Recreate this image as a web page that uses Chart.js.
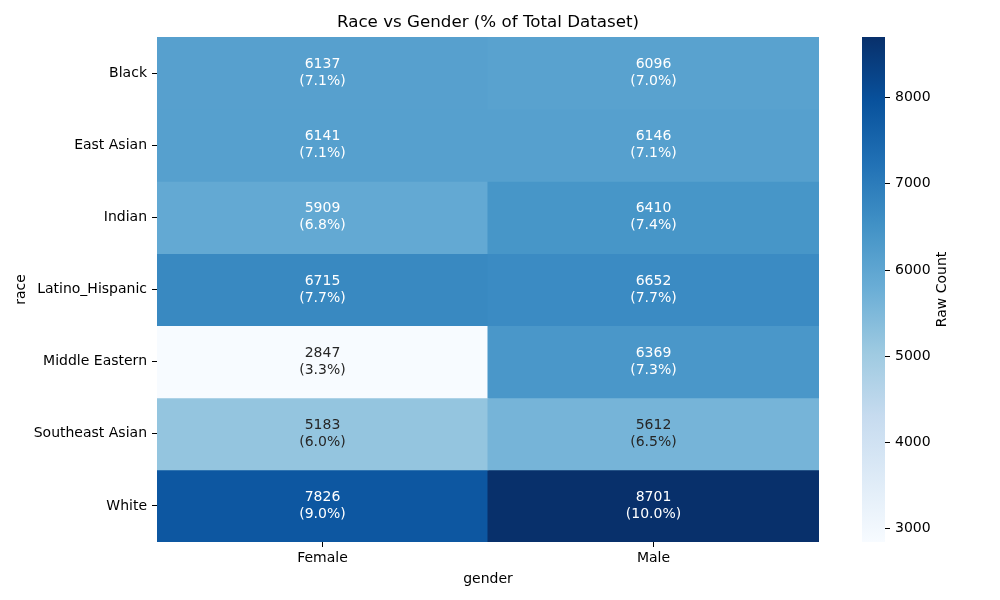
<!DOCTYPE html>
<html>
<head>
<meta charset="utf-8">
<script src="https://cdn.jsdelivr.net/npm/chart.js@4.4.1/dist/chart.umd.min.js"></script>
<style>
  body { margin: 0; background: #fff; }
  #wrap { position: relative; width: 1000px; height: 600px; }
  #heat { position: absolute; left: 0; top: 0; }
  #cbar { position: absolute; left: 840px; top: 0; }
</style>
</head>
<body>
<div id="wrap">
  <canvas id="heat" width="1000" height="600"></canvas>
  <canvas id="cbar" width="160" height="600"></canvas>
</div>
<script>
const races = ['Black', 'East Asian', 'Indian', 'Latino_Hispanic', 'Middle Eastern', 'Southeast Asian', 'White'];
const genders = ['Female', 'Male'];
const femaleCounts = [6137, 6141, 5909, 6715, 2847, 5183, 7826];
const maleCounts = [6096, 6146, 6410, 6652, 6369, 5612, 8701];
const colorbarTicks = [3000, 4000, 5000, 6000, 7000, 8000];

const FONT = 'DejaVu Sans';
Chart.defaults.font.family = FONT;
Chart.defaults.font.size = 14;
Chart.defaults.color = '#000';

// matplotlib "Blues"
const blues = [
    [247, 251, 255], [222, 235, 247], [198, 219, 239], [158, 202, 225], [107, 174, 214],
    [66, 146, 198], [33, 113, 181], [8, 81, 156], [8, 48, 107]
];

const allCounts = femaleCounts.concat(maleCounts);
const vmin = Math.min(...allCounts);
const vmax = Math.max(...allCounts);
const total = allCounts.reduce((a, b) => a + b, 0);

function bluesRgb(v) {
    let t = (v - vmin) / (vmax - vmin);
    t = Math.max(0, Math.min(1, t));
    const pos = t * (blues.length - 1);
    const i = Math.min(Math.floor(pos), blues.length - 2);
    const f = pos - i;
    return blues[i].map((c, k) => Math.round(c + (blues[i + 1][k] - c) * f));
}

function rgbStr(rgb) {
    return 'rgb(' + rgb.join(',') + ')';
}

// same rule seaborn uses to pick the annotation colour
function textColor(rgb) {
    const lin = rgb.map(c => {
        c = c / 255;
        return c <= 0.03928 ? c / 12.92 : Math.pow((c + 0.055) / 1.055, 2.4);
    });
    const lum = 0.2126 * lin[0] + 0.7152 * lin[1] + 0.0722 * lin[2];
    return lum > 0.408 ? '#262626' : '#ffffff';
}

const datasets = races.map((race, i) => {
    const counts = [femaleCounts[i], maleCounts[i]];
    return {
        label: race,
        data: [[i, i + 1], [i, i + 1]],
        counts: counts,
        backgroundColor: counts.map(c => rgbStr(bluesRgb(c))),
        borderWidth: 0,
        inflateAmount: 0.5,
        grouped: false,
        categoryPercentage: 1,
        barPercentage: 1
    };
});

const cellLabels = {
    id: 'cellLabels',
    afterDatasetsDraw(chart) {
        const ctx = chart.ctx;
        ctx.save();
        ctx.font = '14px "' + FONT + '"';
        ctx.textAlign = 'center';
        ctx.textBaseline = 'middle';
        chart.data.datasets.forEach((ds, i) => {
            const meta = chart.getDatasetMeta(i);
            meta.data.forEach((bar, j) => {
                const count = ds.counts[j];
                const cy = (bar.y + bar.base) / 2;
                ctx.fillStyle = textColor(bluesRgb(count));
                ctx.fillText(String(count), bar.x, cy - 8.5);
                ctx.fillText('(' + (count / total * 100).toFixed(1) + '%)', bar.x, cy + 8.5);
            });
        });
        ctx.restore();
    }
};

const plotTitle = {
    id: 'plotTitle',
    afterDraw(chart) {
        const ctx = chart.ctx;
        const area = chart.chartArea;
        ctx.save();
        ctx.font = '16.7px "' + FONT + '"';
        ctx.fillStyle = '#000';
        ctx.textAlign = 'center';
        ctx.textBaseline = 'middle';
        ctx.fillText('Race vs Gender (% of Total Dataset)', (area.left + area.right) / 2, 22.5);
        ctx.restore();
    }
};

new Chart(document.getElementById('heat'), {
    type: 'bar',
    data: { labels: genders, datasets: datasets },
    plugins: [cellLabels, plotTitle],
    options: {
        responsive: false,
        animation: false,
        layout: { padding: { top: 37, right: 181, left: 0, bottom: 0 } },
        plugins: {
            legend: { display: false },
            tooltip: { enabled: false },
            title: { display: false }
        },
        scales: {
            x: {
                type: 'category',
                offset: true,
                afterFit: scale => { scale.height = 58; },
                border: { display: false },
                grid: { offset: false, drawOnChartArea: false, drawTicks: true, tickLength: 5, color: '#000' },
                ticks: { padding: 3, color: '#000' },
                title: { display: true, text: 'gender', padding: { top: 0, bottom: 12 }, color: '#000' }
            },
            y: {
                type: 'linear',
                min: 0,
                max: races.length,
                reverse: true,
                afterFit: scale => { scale.width = 157; },
                afterBuildTicks: scale => {
                    scale.ticks = races.map((r, i) => ({ value: i + 0.5 }));
                },
                border: { display: false },
                grid: { drawOnChartArea: false, drawTicks: true, tickLength: 5, color: '#000' },
                ticks: {
                    padding: 5,
                    color: '#000',
                    callback: value => races[Math.floor(value)]
                },
                title: { display: true, text: 'race', padding: { top: 13, bottom: 0 }, color: '#000' }
            }
        }
    }
});

// colour bar
const cbarLabel = {
    id: 'cbarLabel',
    afterDraw(chart) {
        const ctx = chart.ctx;
        const area = chart.chartArea;
        ctx.save();
        ctx.font = '14px "' + FONT + '"';
        ctx.fillStyle = '#000';
        ctx.textAlign = 'center';
        ctx.textBaseline = 'middle';
        ctx.translate(102, (area.top + area.bottom) / 2);
        ctx.rotate(-Math.PI / 2);
        ctx.fillText('Raw Count', 0, 0);
        ctx.restore();
    }
};

new Chart(document.getElementById('cbar'), {
    type: 'bar',
    data: {
        labels: [''],
        datasets: [{
            data: [[vmin, vmax]],
            borderWidth: 0,
            categoryPercentage: 1,
            barPercentage: 1,
            backgroundColor: ({ chart }) => {
                const area = chart.chartArea;
                if (!area) return 'rgb(66,146,198)';
                const y = chart.scales.y;
                const g = chart.ctx.createLinearGradient(0, y.getPixelForValue(vmin), 0, y.getPixelForValue(vmax));
                blues.forEach((c, i) => g.addColorStop(i / (blues.length - 1), rgbStr(c)));
                return g;
            }
        }]
    },
    plugins: [cbarLabel],
    options: {
        responsive: false,
        animation: false,
        layout: { padding: { top: 37, bottom: 58, left: 22, right: 0 } },
        plugins: { legend: { display: false }, tooltip: { enabled: false } },
        scales: {
            x: { display: false, offset: true },
            y: {
                type: 'linear',
                position: 'right',
                min: vmin,
                max: vmax,
                afterFit: scale => { scale.width = 115; },
                afterBuildTicks: scale => {
                    scale.ticks = colorbarTicks.map(v => ({ value: v }));
                },
                border: { display: false },
                grid: { drawOnChartArea: false, drawTicks: true, tickLength: 5, color: '#000' },
                ticks: { padding: 5, color: '#000', callback: value => String(value) }
            }
        }
    }
});
</script>
</body>
</html>
